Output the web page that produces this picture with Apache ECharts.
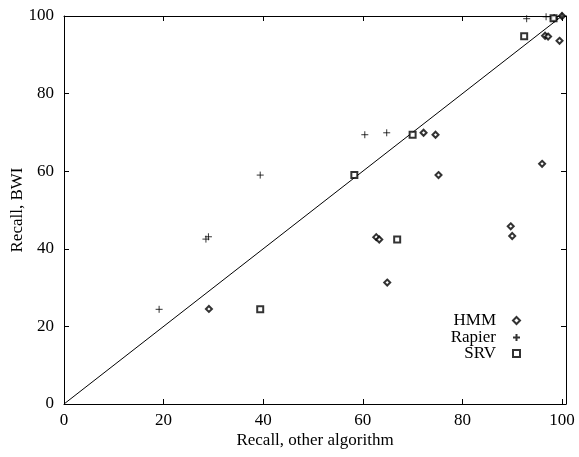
<!DOCTYPE html>
<html>
<head>
<meta charset="utf-8">
<script src="https://cdn.jsdelivr.net/npm/echarts@6/dist/echarts.min.js"></script>
<style>html,body{margin:0;padding:0;background:#fff}#c{width:579px;height:457px}</style>
</head>
<body>
<div id="c"></div>
<script>
const ticks = [0, 20, 40, 60, 80, 100];
const hmm = [[29.1,24.5],[62.7,43.0],[63.3,42.4],[64.9,31.3],[72.2,69.9],[74.6,69.4],[75.2,59.0],[89.7,45.8],[90.0,43.3],[96.0,61.9],[96.6,94.9],[97.2,94.7],[99.5,93.6],[98.4,99.4],[100,100]];
const rapier = [[19.1,24.4],[28.5,42.5],[29.0,43.1],[39.4,59.0],[60.4,69.4],[64.8,69.9],[92.9,99.3],[96.8,99.8],[100,100]];
const srv = [[39.4,24.4],[58.3,59.0],[66.9,42.4],[70.0,69.4],[92.4,94.8],[98.3,99.4]];
const diagonal = [[0,0],[100,100]];
const seriesNames = ['HMM','Rapier','SRV'];

const font = 'Liberation Serif, Times New Roman, serif';
const plusPath = 'path://M0,-1L0,1M-1,0L1,0';
const chart = echarts.init(document.getElementById('c'));
const axisLine = {show:true, onZero:false, lineStyle:{color:'#000', width:1}};
function xAx(pos, show){
  return {type:'value', position:pos, min:0, max:100.8, interval:20,
    name: show ? 'Recall, other algorithm' : '', nameLocation:'middle', nameGap:28, nameMoveOverlap:false,
    nameTextStyle:{fontFamily:font, fontSize:17, color:'#000'},
    axisLine:axisLine, splitLine:{show:false},
    axisTick:{show:true, inside:true, length:5, customValues:ticks, lineStyle:{color:'#000'}},
    axisLabel:{show:show, customValues:ticks, margin:8, fontFamily:font, fontSize:17, color:'#000'}};
}
function yAx(pos, show){
  return {type:'value', position:pos, min:0, max:100, interval:20,
    name: show ? 'Recall, BWI' : '', nameLocation:'middle', nameGap:37.5, nameRotate:90, nameMoveOverlap:false,
    nameTextStyle:{fontFamily:font, fontSize:17, color:'#000'},
    axisLine:axisLine, splitLine:{show:false},
    axisTick:{show:true, inside:true, length:5, lineStyle:{color:'#000'}},
    axisLabel:{show:show, margin:10, fontFamily:font, fontSize:17, color:'#000'}};
}
function leg(name, top){
  return {data:[name], right:58, top:top, orient:'vertical', align:'right', padding:0,
    itemWidth:7, itemHeight:7, selectedMode:false,
    textStyle:{fontFamily:font, fontSize:17, color:'#000', lineHeight:16, padding:[0,12,0,0]}};
}
chart.setOption({
  animation:false,
  textStyle:{fontFamily:font},
  grid:{left:64, right:13, top:16, bottom:53, containLabel:false, outerBoundsMode:'none'},
  xAxis:[xAx('bottom', true), xAx('top', false)],
  yAxis:[yAx('left', true), yAx('right', false)],
  legend:[leg(seriesNames[0], 312), leg(seriesNames[1], 329), leg(seriesNames[2], 345)],
  series:[
    {type:'line', name:'diag', data:diagonal, symbol:'none', silent:true,
     lineStyle:{color:'#000', width:1}, z:1},
    {type:'scatter', name:seriesNames[0], data:hmm, symbol:'emptyDiamond', symbolSize:6,
     itemStyle:{color:'#000', borderColor:'#000', borderWidth:1}, z:3},
    {type:'scatter', name:seriesNames[1], data:rapier, symbol:plusPath, symbolSize:7,
     itemStyle:{color:'#000', borderColor:'#000', borderWidth:1}, z:4},
    {type:'scatter', name:seriesNames[2], data:srv, symbol:'emptyRect', symbolSize:6,
     itemStyle:{color:'#000', borderColor:'#000', borderWidth:1}, z:3}
  ]
});
</script>
</body>
</html>
